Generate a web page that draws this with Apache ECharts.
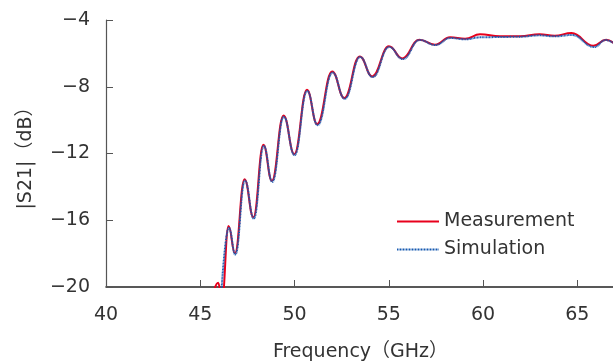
<!DOCTYPE html>
<html><head><meta charset="utf-8">
<script src="https://cdn.jsdelivr.net/npm/echarts@6/dist/echarts.min.js"></script>
<style>html,body{margin:0;padding:0;background:#fff}#c{width:613px;height:361px}</style>
</head><body><div id="c"></div>
<script>
var measFreq = [45.6,45.95,46.15,46.5,46.84,47.35,47.82,48.35,48.8,49.42,49.99,50.66,51.2,52.0,52.64,53.46,54.12,55.01,55.72,56.62,57.45,58.25,59.05,59.84,60.9,61.96,63.0,63.8,64.7,65.85,66.53,67.0];
var measVal  = [-20.8,-19.75,-20.8,-16.34,-17.98,-13.54,-15.82,-11.48,-13.64,-9.72,-12.04,-8.18,-10.24,-7.08,-8.68,-6.18,-7.38,-5.58,-6.30,-5.18,-5.48,-5.04,-5.12,-4.86,-4.98,-4.98,-4.86,-4.94,-4.78,-5.54,-5.18,-5.45];
var simFreq  = [46.05,46.52,46.86,47.37,47.84,48.37,48.82,49.43,50.0,50.67,51.22,52.02,52.66,53.48,54.14,55.02,55.74,56.64,57.47,58.27,59.07,59.84,60.9,61.96,63.0,63.8,64.7,65.9,66.5,67.0];
var simVal   = [-21.5,-16.45,-18.05,-13.62,-15.9,-11.55,-13.7,-9.8,-12.1,-8.25,-10.3,-7.15,-8.72,-6.22,-7.42,-5.62,-6.34,-5.2,-5.5,-5.08,-5.16,-5.04,-5.02,-5.0,-4.92,-4.98,-4.9,-5.62,-5.2,-5.45];
var xTicks = [40,45,50,55,60,65];
var yTicks = [-20,-16,-12,-8,-4];

function pairs(xs, ys){ return xs.map(function(x,i){ return [x, ys[i]]; }); }
var FONT = '"DejaVu Sans", "Noto Sans CJK JP", sans-serif';
var chart = echarts.init(document.getElementById('c'), null, {renderer:'canvas'});
chart.setOption({
  animation:false,
  backgroundColor:'#fff',
  textStyle:{fontFamily:FONT},
  grid:{left:106, top:20, width:509, height:267, containLabel:false, outerBoundsMode:'none'},
  legend:{
    orient:'vertical', left:391, top:207, itemWidth:42, itemHeight:14, itemGap:9,
    itemStyle:{opacity:0},
    textStyle:{fontSize:19, color:'#333', fontFamily:FONT},
    data:['Measurement','Simulation']
  },
  xAxis:{
    type:'value', min:40, max:67, interval:5,
    name:'Frequency（GHz）', nameLocation:'middle', nameGap:56,
    nameTextStyle:{fontSize:19, color:'#333', fontFamily:FONT},
    axisLine:{lineStyle:{color:'#222', width:1.5}},
    axisTick:{inside:true, length:7, lineStyle:{color:'#555'}},
    axisLabel:{fontSize:19, color:'#333', margin:19, fontFamily:FONT,
      customValues: xTicks, formatter:function(v){return String(v);}},
    splitLine:{show:false}
  },
  yAxis:{
    type:'value', min:-20, max:-4, interval:4,
    name:'|S21|（dB）', nameLocation:'middle', nameGap:70, nameRotate:90,
    nameTextStyle:{fontSize:19, color:'#333', fontFamily:FONT},
    axisLine:{show:true, lineStyle:{color:'#555', width:1.2}},
    axisTick:{show:true, inside:true, length:7, lineStyle:{color:'#555'}},
    axisLabel:{fontSize:19, color:'#333', margin:16, fontFamily:FONT,
      formatter:function(v){return String(v).replace('-','\u2212');}},
    splitLine:{show:false}
  },
  series:[
    {name:'Measurement', type:'line', data:pairs(measFreq, measVal), smooth:0.45, smoothMonotone:'x',
     symbol:'none', clip:true, lineStyle:{color:'#e8001c', width:2}, itemStyle:{color:'#e8001c'}, z:2},
    {name:'Simulation', type:'line', data:pairs(simFreq, simVal), smooth:0.45, smoothMonotone:'x',
     symbol:'none', clip:true, lineStyle:{color:'#1558b0', width:2, type:[1,0.5]}, itemStyle:{color:'#1558b0'}, z:3}
  ]
});
</script></body></html>
